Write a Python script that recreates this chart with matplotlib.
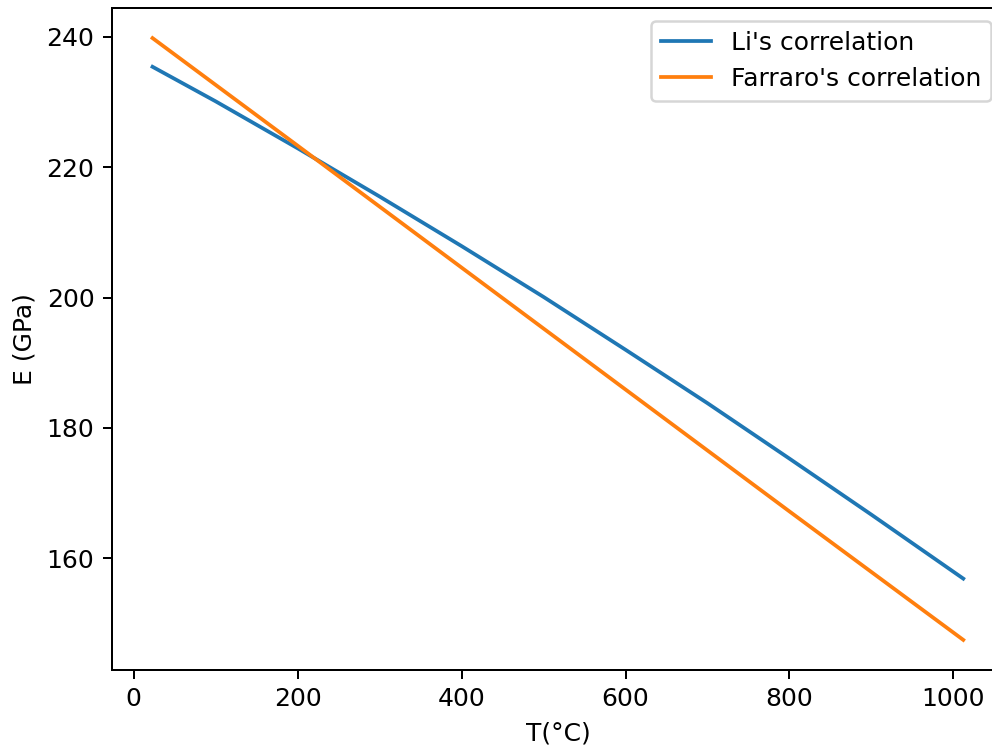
import numpy as np
import matplotlib
matplotlib.use('Agg')
import matplotlib.pyplot as plt

# values
temp_li = [23, 100, 200, 300, 400, 500, 600, 700, 800, 900, 1012]
e_li = [235.4, 230.1, 222.9, 215.5, 207.9, 200.1, 192.0, 183.8, 175.3, 166.7, 156.9]

temp_farraro = [23, 200, 400, 600, 800, 1012]
e_farraro = [239.8, 223.3, 204.6, 185.9, 167.2, 147.5]

fig = plt.figure(figsize=(992 / 180, 748 / 180), dpi=180)
ax = fig.add_axes([0.1129, 0.1043, 0.899, 0.885])

ax.plot(temp_li, e_li, label="Li's correlation")
ax.plot(temp_farraro, e_farraro, label="Farraro's correlation")

ax.set_xlabel('T(°C)')
ax.set_ylabel('E (GPa)')
ax.legend(loc='upper right')

fig.savefig('out.png', dpi=180)
